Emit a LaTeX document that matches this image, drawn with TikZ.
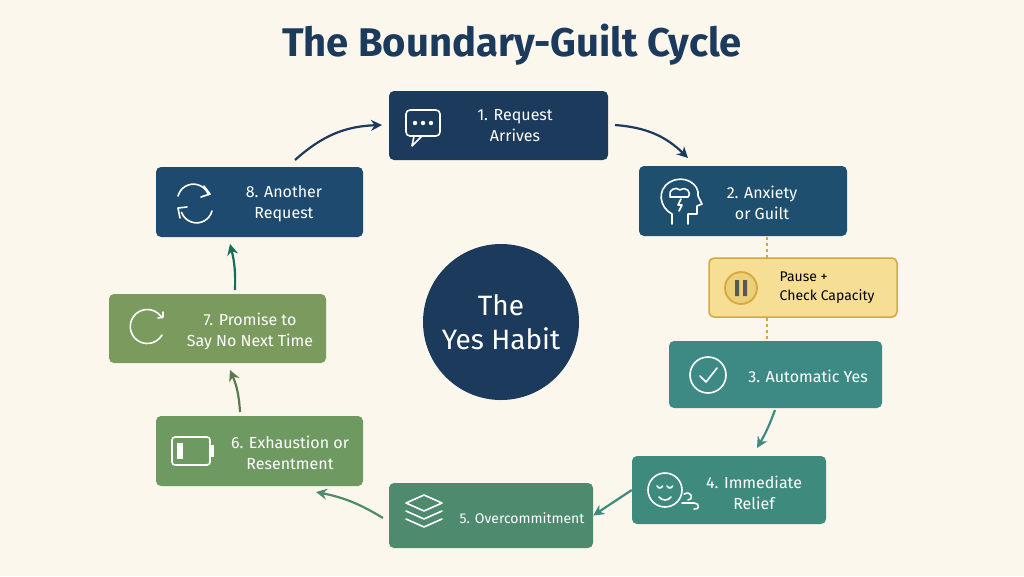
\documentclass[tikz,border=0pt]{standalone}
\usepackage{fontspec}
\setmainfont{Fira Sans}
\usetikzlibrary{arrows.meta}
\definecolor{bg}{HTML}{FBF7EC}
\definecolor{navy}{HTML}{1B3A5C}
\definecolor{c2}{HTML}{1F4F6E}
\definecolor{c3}{HTML}{3D8A85}
\definecolor{c4}{HTML}{3E8A7D}
\definecolor{c5}{HTML}{4E8A6E}
\definecolor{c6}{HTML}{6E9A62}
\definecolor{c7}{HTML}{7A9A5E}
\definecolor{c8}{HTML}{1D4A6E}
\definecolor{pausef}{HTML}{F6DF94}
\definecolor{paused}{HTML}{D4A93A}
\begin{document}
\begin{tikzpicture}[x=1pt,y=-1pt,
 box/.style={rounded corners=5pt,minimum width=#1},
 lbl/.style={text=white,font=\fontsize{16}{21}\selectfont,align=center},
 ico/.style={white,line width=1.6pt,line cap=round,line join=round},
 arr/.style={line width=2.2pt,-{Stealth[length=11pt,width=11pt]}}]
\fill[bg] (0,0) rectangle (1024,576);
\useasboundingbox (0,0) rectangle (1024,576);
\node[text=navy,font=\fontsize{40}{44}\selectfont\bfseries] (title) at (512,45) {The Boundary-Guilt Cycle};
% boxes
\node[box=219pt,fill=navy,minimum height=69pt] (b1) at (498.5,125.5) {};
\node[lbl] (t1) at (515,126) {1. Request\\Arrives};
\node[box=208pt,fill=c2,minimum height=70pt] (b2) at (743,201) {};
\node[lbl] (t2) at (762,203) {2. Anxiety\\or Guilt};
\node[rounded corners=5pt,fill=pausef,draw=paused,line width=1.5pt,minimum width=188pt,minimum height=59pt] (bp) at (803,287.5) {};
\node[text=black,font=\fontsize{14}{19}\selectfont,align=left] (tp) at (827,288) {Pause +\\Check Capacity};
\node[box=213pt,fill=c3,minimum height=67pt] (b3) at (775.5,374.5) {};
\node[lbl] (t3) at (808,376) {3. Automatic Yes};
\node[box=194pt,fill=c4,minimum height=68pt] (b4) at (729,490) {};
\node[lbl] (t4) at (754,493) {4. Immediate\\Relief};
\node[box=204pt,fill=c5,minimum height=65pt] (b5) at (491,515.5) {};
\node[text=white,font=\fontsize{14}{17}\selectfont] (t5) at (522,518) {5. Overcommitment};
\node[box=207pt,fill=c6,minimum height=70pt] (b6) at (259.5,451) {};
\node[lbl] (t6) at (290,453) {6. Exhaustion or\\Resentment};
\node[box=217pt,fill=c7,minimum height=69pt] (b7) at (217.5,328.5) {};
\node[lbl] (t7) at (250,331) {7. Promise to\\Say No Next Time};
\node[box=207pt,fill=c8,minimum height=70pt] (b8) at (259.5,202) {};
\node[lbl] (t8) at (284,204) {8. Another\\Request};
\node[circle,fill=navy,minimum size=156pt,text=white,font=\fontsize{28}{34}\selectfont,align=center] (c) at (501,322) {The\\Yes Habit};
% icons
\draw[ico,rounded corners=4pt] (406,110) rectangle (440,136);
\draw[ico] (414,136) -- (412,146) -- (422,136);
\foreach \i in {415,423,431} \fill[white] (\i,123) circle (2.2pt);
\draw[ico] (672,224) -- (672,214) .. controls (660,208) and (656,190) .. (670,182) .. controls (684,174) and (700,184) .. (698,196) -- (702,204) -- (697,206) -- (697,214) -- (688,214) -- (688,224);
\draw[ico] (670,196) .. controls (668,190) and (676,186) .. (680,190) .. controls (686,186) and (692,192) .. (688,197) -- (670,197);
\draw[ico] (681,199) -- (678,205) -- (682,205) -- (679,211);
\draw[paused,line width=1.8pt,fill=pausef!70!paused] (741,288) circle (16pt);
\fill[navy!70!paused] (735,280) rectangle (739,296) (743,280) rectangle (747,296);
\draw[ico] (708,375) circle (18pt);
\draw[ico] (700,376) -- (706,382) -- (717,368);
\draw[ico] (665,490) circle (17pt);
\draw[ico] (657,486) arc[start angle=200,end angle=340,radius=3pt];
\draw[ico] (667,486) arc[start angle=200,end angle=340,radius=3pt];
\draw[ico] (659,497) .. controls (662,501) and (668,501) .. (671,497);
\draw[ico] (684,494) .. controls (692,490) and (694,500) .. (688,500) (682,503) -- (694,503) .. controls (700,503) and (700,510) .. (694,509);
\draw[ico] (424,495) -- (442,503) -- (424,511) -- (406,503) -- cycle;
\draw[ico] (406,511) -- (424,519) -- (442,511);
\draw[ico] (406,519) -- (424,527) -- (442,519);
\draw[ico,rounded corners=3pt] (172,437) rectangle (210,465);
\fill[white] (210,445) rectangle (214,457);
\fill[white] (177,443) rectangle (183,459);
\draw[ico] (162,318) arc[start angle=30,end angle=330,radius=17pt];
\draw[ico] (158,318) -- (163,317) -- (163,312);
\draw[ico] (178,196) arc[start angle=165,end angle=20,radius=16pt];
\draw[ico] (204,186) -- (210,194) -- (201,197);
\draw[ico] (212,211) arc[start angle=345,end angle=200,radius=16pt];
\draw[ico] (180,218) -- (178,208) -- (187,207);
% connectors
\coordinate (s8) at (295,160);
\coordinate (e1) at (382,125);
\coordinate (s1) at (615,125);
\coordinate (e2) at (688,158);
\coordinate (p1) at (767,237);
\coordinate (p2) at (767,258);
\coordinate (p3) at (767,318);
\coordinate (p4) at (767,340);
\coordinate (s3) at (775,410);
\coordinate (e4) at (757,448);
\coordinate (s5) at (383,518);
\coordinate (e6) at (316,492);
\coordinate (s6) at (240,412);
\coordinate (e7) at (230,370);
\coordinate (s7) at (235,290);
\coordinate (e8) at (230,244);
\draw[navy,arr] (s8) to[bend left=20] (e1);
\draw[navy,arr] (s1) to[bend left=20] (e2);
\draw[paused,line width=1.6pt,dash pattern=on 3pt off 3pt] (p1) -- (p2);
\draw[paused,line width=1.6pt,dash pattern=on 3pt off 3pt] (p3) -- (p4);
\draw[c3,arr] (s3) to[bend left=5] (e4);
\draw[c4,arr] (b4.west) -- (b5.east);
\draw[c5,arr] (s5) to[bend right=10] (e6);
\draw[c6!80!black,arr] (s6) to[bend right=10] (e7);
\draw[c8!80!green,arr] (s7) to[bend right=8] (e8);
\end{tikzpicture}
\end{document}
